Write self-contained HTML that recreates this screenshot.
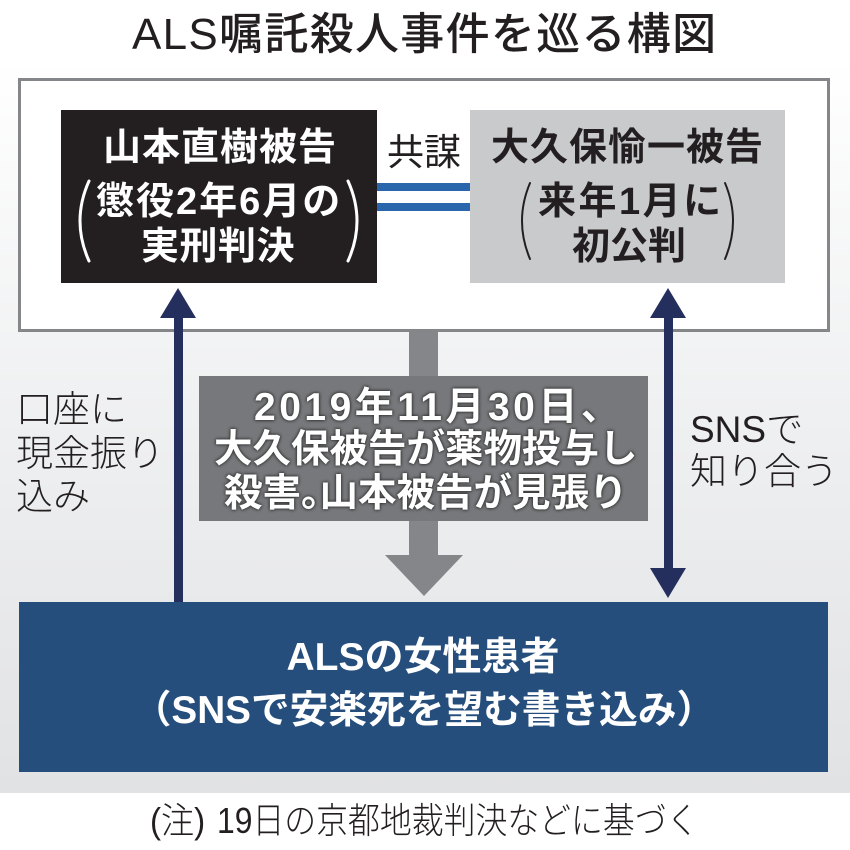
<!DOCTYPE html>
<html lang="ja"><head><meta charset="utf-8"><style>
html,body{margin:0;padding:0;background:#fff}
#c{position:relative;width:850px;height:850px;overflow:hidden;background:#fff;font-family:"Liberation Sans","Noto Sans CJK JP",sans-serif}
.b{position:absolute;box-sizing:border-box}
.t{position:absolute;white-space:nowrap;line-height:1;transform:translateX(-50%);text-align:center}
.a{position:absolute;white-space:nowrap;line-height:1}
.l{position:absolute;white-space:nowrap;line-height:1;color:#231f20;font-weight:300}
.w{color:#fff;font-weight:700}
.s{text-shadow:0 0 3px #333,0 0 3px #333}
svg{position:absolute;left:0;top:0}
</style></head><body><div id="c">
<div class="b" style="left:0;top:58px;width:850px;height:735px;background:linear-gradient(#fff 0,#f0f1f2 45%,#e1e2e4 100%)"></div>
<div class="a" style="left:132px;top:13px;font-size:44px;letter-spacing:1.3px;font-weight:500;color:#231f20">ALS嘱託殺人事件を巡る構図</div>
<div class="b" style="left:18px;top:78px;width:812px;height:254px;background:#fff;border:3px solid #85868a"></div>
<div class="b" style="left:61px;top:110px;width:316px;height:173px;background:#231f20"></div>
<div class="b" style="left:470px;top:110px;width:315px;height:173px;background:#c9cacc"></div>
<div class="b" style="left:377px;top:183px;width:93px;height:8px;background:#2a66ac"></div>
<div class="b" style="left:377px;top:203px;width:93px;height:8px;background:#2a66ac"></div>
<svg width="850" height="850">
<polygon points="409,331 438,331 438,555 463,555 424,596 385,555 409,555" fill="#85868a"/>
<rect x="174" y="315" width="9" height="288" fill="#252f5e"/>
<polygon points="178,288 196,318 160,318" fill="#252f5e"/>
<rect x="664" y="315" width="9" height="256" fill="#252f5e"/>
<polygon points="668,288 686,318 650,318" fill="#252f5e"/>
<polygon points="668,598 686,568 650,568" fill="#252f5e"/>
<g fill="none" stroke-width="3" stroke-linecap="round">
<path d="M89 181Q71 221 89 261" stroke="#fff"/>
<path d="M348 181Q366 221 348 261" stroke="#fff"/>
<path d="M530 183Q514 221 530 259" stroke="#231f20" stroke-width="2"/>
<path d="M725 183Q741 221 725 259" stroke="#231f20" stroke-width="2"/>
</g>
</svg>
<div class="b" style="left:199px;top:376px;width:449px;height:145px;background:#77787b"></div>
<div class="b" style="left:19px;top:602px;width:809px;height:170px;background:#254e7c"></div>

<div class="a w" style="left:103px;top:129px;font-size:38px;letter-spacing:1px">山本直樹被告</div>
<div class="a w" style="left:96px;top:183px;font-size:38px;letter-spacing:2px">懲役2年6月の</div>
<div class="a w" style="left:141px;top:228px;font-size:38px;letter-spacing:.5px">実刑判決</div>
<div class="a" style="left:491px;top:129px;font-size:38px;letter-spacing:1px;font-weight:700;color:#231f20">大久保愉一被告</div>
<div class="a" style="left:538px;top:183px;font-size:38px;letter-spacing:2.5px;font-weight:700;color:#231f20">来年1月に</div>
<div class="a" style="left:572px;top:228px;font-size:38px;font-weight:700;color:#231f20">初公判</div>
<div class="t" style="left:424px;top:134px;font-size:37px;color:#231f20">共謀</div>

<div class="a w s" style="left:254px;top:388px;font-size:39px;letter-spacing:3.5px">2019年11月30日、</div>
<div class="a w s" style="left:214px;top:431px;font-size:38.5px">大久保被告が薬物投与し</div>
<div class="a w s" style="left:224px;top:475px;font-size:38.5px">殺害<span style="letter-spacing:-20px">。</span><span style="margin-left:0">山本被告が見張り</span></div>

<div class="l" style="left:16px;top:391px;font-size:37px">口座に</div>
<div class="l" style="left:16px;top:435px;font-size:37px">現金振り</div>
<div class="l" style="left:16px;top:478px;font-size:37px">込み</div>
<div class="l" style="left:690px;top:411px;font-size:37px">SNSで</div>
<div class="l" style="left:690px;top:453px;font-size:37px">知り合う</div>

<div class="t w" style="left:423px;top:638px;font-size:39px">ALSの女性患者</div>
<div class="t w" style="left:424px;top:692px;font-size:38.7px">（SNSで安楽死を望む書き込み）</div>
<div class="a" style="left:150px;top:803px;font-size:36px;color:#231f20;font-weight:300;transform:scaleX(.92);transform-origin:0 0">(注)</div>
<div class="a" style="left:217px;top:803px;font-size:36px;color:#231f20;font-weight:300;transform:scaleX(.885);transform-origin:0 0">19日の京都地裁判決などに基づく</div>
</div></body></html>
